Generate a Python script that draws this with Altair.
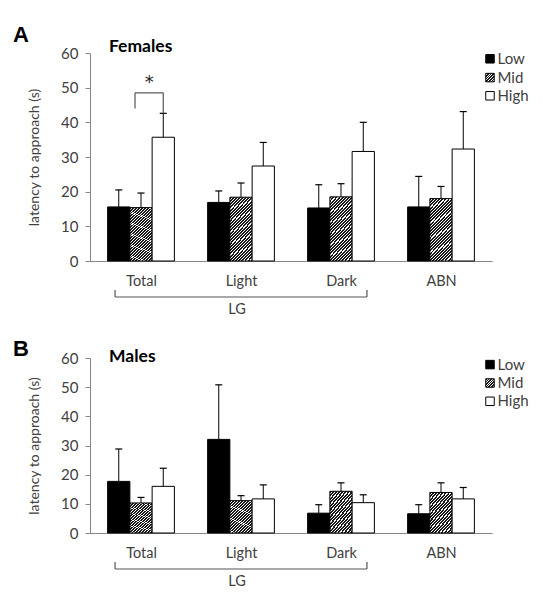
import json
import altair as alt
import pandas as pd

# ---------------- data ----------------
categories = ["Total", "Light", "Dark", "ABN"]
levels = ["Low", "Mid", "High"]

fem_low = [15.6, 16.9, 15.3, 15.6]
fem_mid = [15.4, 18.4, 18.5, 18.0]
fem_high = [35.7, 27.4, 31.6, 32.3]
fem_low_sem = [4.9, 3.3, 6.7, 8.8]
fem_mid_sem = [4.2, 4.1, 3.8, 3.5]
fem_high_sem = [6.9, 6.8, 8.4, 10.8]

male_low = [17.7, 32.1, 6.8, 6.6]
male_mid = [10.3, 11.1, 14.3, 13.9]
male_high = [16.0, 11.7, 10.4, 11.7]
male_low_sem = [11.1, 18.7, 2.9, 3.1]
male_mid_sem = [1.9, 1.7, 2.9, 3.3]
male_high_sem = [6.2, 4.8, 2.7, 3.9]

y_ticks = [0, 10, 20, 30, 40, 50, 60]
y_title = "latency to approach (s)"

# significance bracket (females, Total: Mid vs High)
sig_bracket_y = 48.5
sig_left_leg_bottom = 44.0
sig_star_y = 51.3

# ---------------- layout / style ----------------
BW = 0.2225                    # bar width in group units
PX_PER_UNIT = 100.2
FONT = "Lato"
TXT = "#404040"
AXC = "#868686"


def hatch(k, period_px, width_px, dark_frac=0.62):
    p = period_px / (width_px * (1 + k * k))
    tmax = (1 + k) / (1 + k * k)
    stops = []
    t = 0.0
    while t < min(1.0, tmax + p):
        a = round(t, 5)
        b = round(min(t + dark_frac * p, 1.0), 5)
        c = round(min(t + p, 1.0), 5)
        stops += [{"offset": a, "color": "#1a1a1a"}, {"offset": b, "color": "#1a1a1a"},
                  {"offset": b, "color": "#ffffff"}, {"offset": c, "color": "#ffffff"}]
        t += p
    return alt.LinearGradient(gradient="linear", x1=0, y1=0, x2=1, y2=k,
                              stops=[alt.GradientStop(**s) for s in stops])


def bar_table(means, sems):
    rows = []
    for j, lv in enumerate(levels):
        for i, cat in enumerate(categories):
            m = means[j][i]
            s = sems[j][i]
            x0 = i + (j - 1.5) * BW
            rows.append({"cat": cat, "level": lv, "x0": x0, "x1": x0 + BW,
                         "xc": x0 + BW / 2, "mean": m, "top": m + s, "base": 0})
    return pd.DataFrame(rows)


label_expr = "%s[datum.value]" % json.dumps(categories)
xscale = alt.Scale(domain=[-0.51, 3.51], nice=False, zero=False)
xaxis = alt.Axis(values=[0, 1, 2, 3], labelExpr=label_expr, ticks=False, grid=False,
                 labelPadding=13, labelFont=FONT, labelFontSize=14.5, labelColor=TXT,
                 domainColor=AXC, labelAngle=0)
yscale = alt.Scale(domain=[0, 60], nice=False)
yaxis = alt.Axis(values=y_ticks, grid=False, tickSize=5, tickColor=AXC, domainColor=AXC,
                 labelPadding=7, labelFont=FONT, labelFontSize=15, labelColor=TXT,
                 titleFont=FONT, titleFontSize=14, titleFontWeight="normal",
                 titleColor=TXT, titlePadding=19)


def X(f):
    return alt.X(f, type="quantitative", scale=xscale, axis=xaxis, title=None)


def Y(f):
    return alt.Y(f, type="quantitative", scale=yscale, axis=yaxis, title=y_title)


def panel(df, h, letter, letter_y, title, title_y, legend_ys, k, sig=False):
    base = alt.Chart(df)
    fills = {"Low": "black", "Mid": hatch(k, 3.1, BW * PX_PER_UNIT), "High": "white"}
    layers = []
    for lv in levels:
        layers.append(
            base.transform_filter(alt.datum.level == lv)
            .mark_bar(fill=fills[lv], stroke="black", strokeWidth=1)
            .encode(x=X("x0"), x2="x1", y=Y("mean"), y2="base")
        )
    layers.append(base.mark_rule(color="black", strokeWidth=1)
                  .encode(x=X("xc"), y=Y("mean"), y2="top"))
    layers.append(base.mark_rule(color="black", strokeWidth=1.2, xOffset=-3.5, x2Offset=3.5)
                  .encode(x=X("xc"), x2="xc", y=Y("top")))

    # LG bracket below the axis (Total .. Dark)
    lg_df = pd.DataFrame({"a": [-26 / PX_PER_UNIT], "b": [2 + 26 / PX_PER_UNIT], "m": [1 - 4 / PX_PER_UNIT]})
    lg = alt.Chart(lg_df)
    layers.append(lg.mark_rule(color="#555", strokeWidth=1.2)
                  .encode(x=X("a"), x2="b", y=alt.value(h + 36)))
    layers.append(lg.mark_rule(color="#555", strokeWidth=1.2)
                  .encode(x=X("a"), y=alt.value(h + 29), y2=alt.value(h + 36)))
    layers.append(lg.mark_rule(color="#555", strokeWidth=1.2)
                  .encode(x=X("b"), y=alt.value(h + 29), y2=alt.value(h + 36)))
    layers.append(lg.mark_text(text="LG", font=FONT, fontSize=14.5, color=TXT, baseline="middle")
                  .encode(x=X("m"), y=alt.value(h + 49)))

    if sig:
        tot_high = df[(df.cat == "Total") & (df.level == "High")].iloc[0]
        tot_mid = df[(df.cat == "Total") & (df.level == "Mid")].iloc[0]
        s_df = pd.DataFrame({"l": [tot_mid.xc - 6 / PX_PER_UNIT], "r": [tot_high.xc],
                             "yb": [sig_bracket_y], "yl": [sig_left_leg_bottom],
                             "yr": [tot_high.top], "ys": [sig_star_y],
                             "xs": [(tot_mid.xc - 6 / PX_PER_UNIT + tot_high.xc) / 2]})
        sc = alt.Chart(s_df)
        layers.append(sc.mark_rule(color="#555", strokeWidth=1.2).encode(x=X("l"), x2="r", y=Y("yb")))
        layers.append(sc.mark_rule(color="#555", strokeWidth=1.2).encode(x=X("l"), y=Y("yl"), y2="yb"))
        layers.append(sc.mark_rule(color="#555", strokeWidth=1.2).encode(x=X("r"), y=Y("yr"), y2="yb"))
        layers.append(sc.mark_text(text="*", font="DejaVu Sans", fontSize=18, color="#222",
                                   baseline="middle").encode(x=X("xs"), y=Y("ys")))

    # manual legend
    leg_fills = {"Low": "black", "Mid": hatch(1.0, 2.6, 8.5), "High": "white"}
    one = alt.Chart(pd.DataFrame({"level": levels}))
    for lv, yy in zip(levels, legend_ys):
        layers.append(one.transform_filter(alt.datum.level == lv)
                      .mark_square(size=72, filled=True, fill=leg_fills[lv], stroke="black",
                                   strokeWidth=1, opacity=1)
                      .encode(x=alt.value(400), y=alt.value(yy)))
        layers.append(one.transform_filter(alt.datum.level == lv)
                      .mark_text(font=FONT, fontSize=15, color=TXT, align="left", baseline="middle")
                      .encode(text="level:N", x=alt.value(407.5), y=alt.value(yy)))

    # panel letter and title
    layers.append(one.transform_filter(alt.datum.level == "Low")
                  .mark_text(text=letter, font="Liberation Sans", fontSize=22, fontWeight="bold",
                             color="black", align="left", baseline="alphabetic")
                  .encode(x=alt.value(-77), y=alt.value(letter_y)))
    layers.append(one.transform_filter(alt.datum.level == "Low")
                  .mark_text(text=title, font=FONT, fontSize=17.5, fontWeight="bold",
                             color="black", align="left", baseline="alphabetic")
                  .encode(x=alt.value(19), y=alt.value(title_y)))

    return alt.layer(*layers).properties(width=402, height=h)


fem_df = bar_table([fem_low, fem_mid, fem_high], [fem_low_sem, fem_mid_sem, fem_high_sem])
male_df = bar_table([male_low, male_mid, male_high], [male_low_sem, male_mid_sem, male_high_sem])

pA = panel(fem_df, 208, "A", -11.5, "Females", -0.6, [5.8, 24.6, 42.8], 2.7, sig=True)
pB = panel(male_df, 175, "B", -2, "Males", 4, [6.6, 25.0, 43.3], 1.62)

chart = (
    alt.vconcat(pA, pB, spacing=21)
    .properties(padding={"left": 5, "top": 15, "right": 5, "bottom": 5}, background="white")
    .configure_view(stroke=None)
)

chart.save("out.html", embed_options={"renderer": "svg", "actions": False})
